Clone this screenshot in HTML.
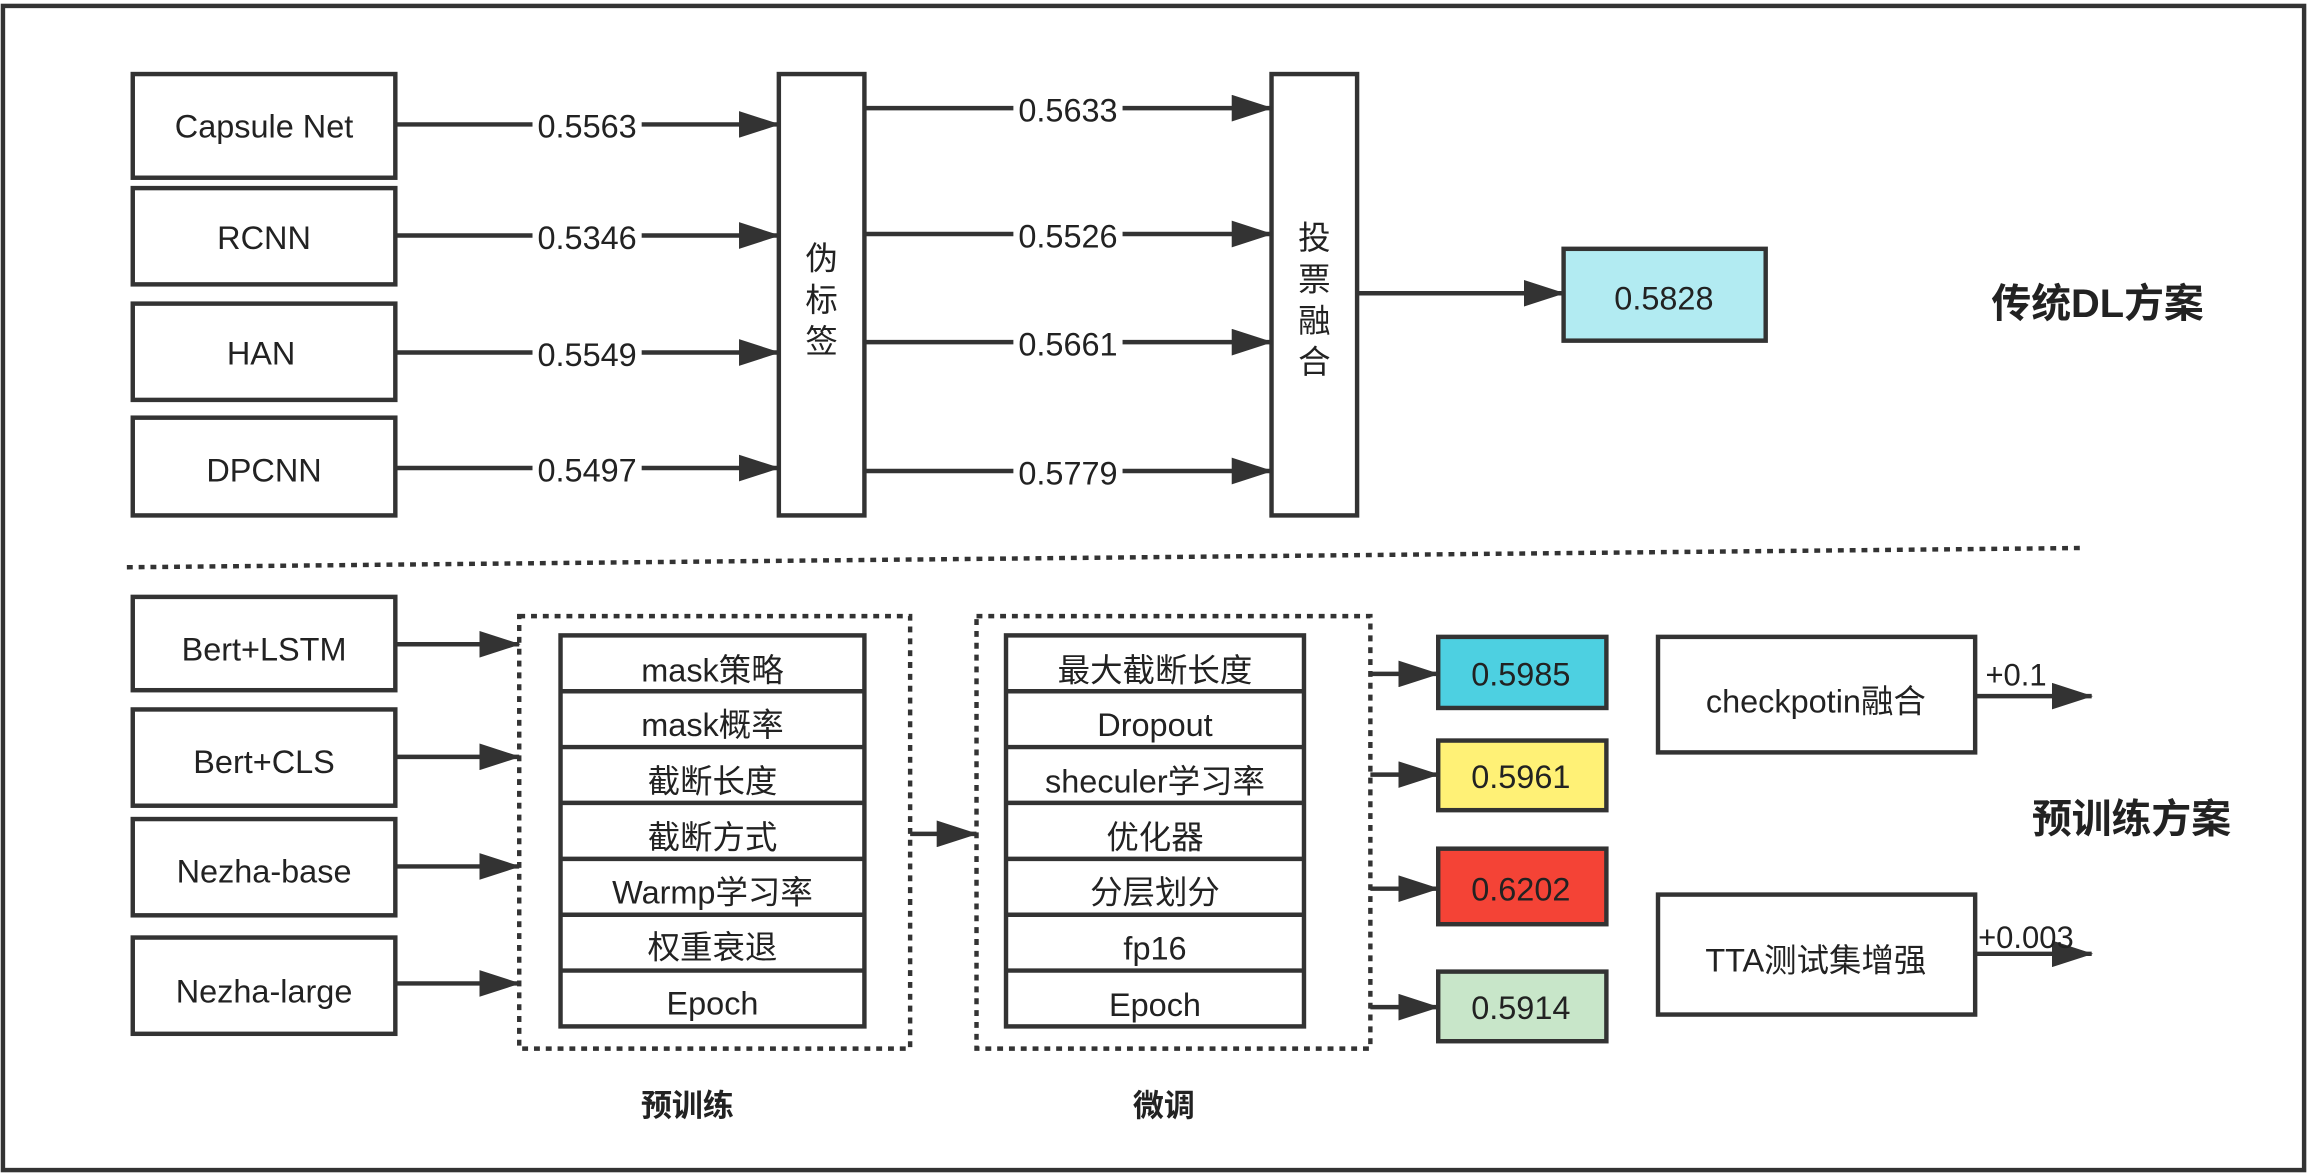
<!DOCTYPE html>
<html><head><meta charset="utf-8"><style>
html,body{margin:0;padding:0;background:#fff;width:2310px;height:1176px;overflow:hidden}
svg text{font-family:"Liberation Sans","Noto Sans CJK SC",sans-serif;fill:#222}
</style></head><body>
<svg width="2310" height="1176" viewBox="0 0 1566 794" preserveAspectRatio="none" xmlns="http://www.w3.org/2000/svg">
<defs><marker id="a" markerWidth="28" markerHeight="18" refX="27" refY="9" orient="auto" markerUnits="userSpaceOnUse"><path d="M0,0 L28,9 L0,18 z" fill="#333"/></marker></defs>
<rect x="2" y="4" width="1560" height="786" fill="none" stroke="#333" stroke-width="3"/>
<g fill="#fff" stroke="#333" stroke-width="3">
<rect x="90" y="50" width="178" height="70"/><rect x="90" y="127" width="178" height="65"/>
<rect x="90" y="205" width="178" height="65"/><rect x="90" y="282" width="178" height="66"/>
<rect x="528" y="50" width="58" height="298"/><rect x="862" y="50" width="58" height="298"/>
<rect x="1060" y="168" width="137" height="62" fill="#b2ebf2"/>
<rect x="90" y="403" width="178" height="63"/><rect x="90" y="479" width="178" height="65"/>
<rect x="90" y="553" width="178" height="65"/><rect x="90" y="633" width="178" height="65"/>
<rect x="975" y="430" width="114" height="48" fill="#4dd0e1"/>
<rect x="975" y="500" width="114" height="47" fill="#fff176"/>
<rect x="975" y="573" width="114" height="51" fill="#f44336"/>
<rect x="975" y="656" width="114" height="47" fill="#c8e6c9"/>
<rect x="1124" y="430" width="215" height="78"/><rect x="1124" y="604" width="215" height="81"/>
</g>
<g fill="none" stroke="#333" stroke-width="3" stroke-dasharray="4,4">
<line x1="86" y1="383" x2="1410" y2="370"/>
<rect x="352" y="416" width="265" height="292"/><rect x="662" y="416" width="267" height="292"/>
</g>
<g fill="#fff" stroke="#333" stroke-width="3">
<rect x="380" y="429" width="206" height="264"/><rect x="682" y="429" width="202" height="264"/>
<path d="M380 466.7H586M380 504.4H586M380 542.1H586M380 579.9H586M380 617.6H586M380 655.3H586M682 466.7H884M682 504.4H884M682 542.1H884M682 579.9H884M682 617.6H884M682 655.3H884"/>
</g>
<g stroke="#333" stroke-width="3" marker-end="url(#a)">
<line x1="268" y1="84" x2="528" y2="84"/><line x1="268" y1="159" x2="528" y2="159"/>
<line x1="268" y1="238" x2="528" y2="238"/><line x1="268" y1="316" x2="528" y2="316"/>
<line x1="586" y1="73" x2="862" y2="73"/><line x1="586" y1="158" x2="862" y2="158"/>
<line x1="586" y1="231" x2="862" y2="231"/><line x1="586" y1="318" x2="862" y2="318"/>
<line x1="920" y1="198" x2="1060" y2="198"/>
<line x1="268" y1="435" x2="352" y2="435"/><line x1="268" y1="511" x2="352" y2="511"/>
<line x1="268" y1="585" x2="352" y2="585"/><line x1="268" y1="664" x2="352" y2="664"/>
<line x1="617" y1="563" x2="662" y2="563"/>
<line x1="929" y1="455" x2="975" y2="455"/><line x1="929" y1="523" x2="975" y2="523"/>
<line x1="929" y1="600" x2="975" y2="600"/><line x1="929" y1="680" x2="975" y2="680"/>
<line x1="1339" y1="470" x2="1418" y2="470"/><line x1="1339" y1="644" x2="1418" y2="644"/>
</g>
<g font-size="22" text-anchor="middle">
<text x="179" y="93">Capsule Net</text><text x="179" y="168">RCNN</text>
<text x="177" y="246">HAN</text><text x="179" y="325">DPCNN</text>
<g><rect x="361" y="72" width="74" height="24" fill="#fff"/><text x="398" y="93">0.5563</text>
<rect x="361" y="147" width="74" height="24" fill="#fff"/><text x="398" y="168">0.5346</text>
<rect x="361" y="226" width="74" height="24" fill="#fff"/><text x="398" y="247">0.5549</text>
<rect x="361" y="304" width="74" height="24" fill="#fff"/><text x="398" y="325">0.5497</text>
<rect x="687" y="61" width="74" height="24" fill="#fff"/><text x="724" y="82">0.5633</text>
<rect x="687" y="146" width="74" height="24" fill="#fff"/><text x="724" y="167">0.5526</text>
<rect x="687" y="219" width="74" height="24" fill="#fff"/><text x="724" y="240">0.5661</text>
<rect x="687" y="306" width="74" height="24" fill="#fff"/><text x="724" y="327">0.5779</text></g>
<text x="557" y="182">伪</text><text x="557" y="210">标</text><text x="557" y="238">签</text>
<text x="891" y="168">投</text><text x="891" y="196">票</text><text x="891" y="224">融</text><text x="891" y="252">合</text>
<text x="1128" y="209">0.5828</text>
<text x="179" y="446">Bert+LSTM</text><text x="179" y="522">Bert+CLS</text>
<text x="179" y="596">Nezha-base</text><text x="179" y="677">Nezha-large</text>
<text x="483" y="460">mask策略</text><text x="483" y="497">mask概率</text><text x="483" y="535">截断长度</text>
<text x="483" y="573">截断方式</text><text x="483" y="610">Warmp学习率</text><text x="483" y="647">权重衰退</text><text x="483" y="685">Epoch</text>
<text x="783" y="460">最大截断长度</text><text x="783" y="497">Dropout</text><text x="783" y="535">sheculer学习率</text>
<text x="783" y="573">优化器</text><text x="783" y="610">分层划分</text><text x="783" y="648">fp16</text><text x="783" y="686">Epoch</text>
<text x="1031" y="463">0.5985</text><text x="1031" y="532">0.5961</text><text x="1031" y="608">0.6202</text><text x="1031" y="688">0.5914</text>
<text x="1231" y="481">checkpotin融合</text><text x="1231" y="656">TTA测试集增强</text>
</g>
<g font-size="21"><text x="1346" y="463">+0.1</text><text x="1341" y="640">+0.003</text></g>
<g font-size="27" font-weight="bold" text-anchor="middle">
<text x="1422" y="214">传统DL方案</text><text x="1445" y="562">预训练方案</text>
</g>
<g font-size="21" font-weight="bold" text-anchor="middle">
<text x="466" y="754">预训练</text><text x="789" y="754">微调</text>
</g>
</svg>
</body></html>
